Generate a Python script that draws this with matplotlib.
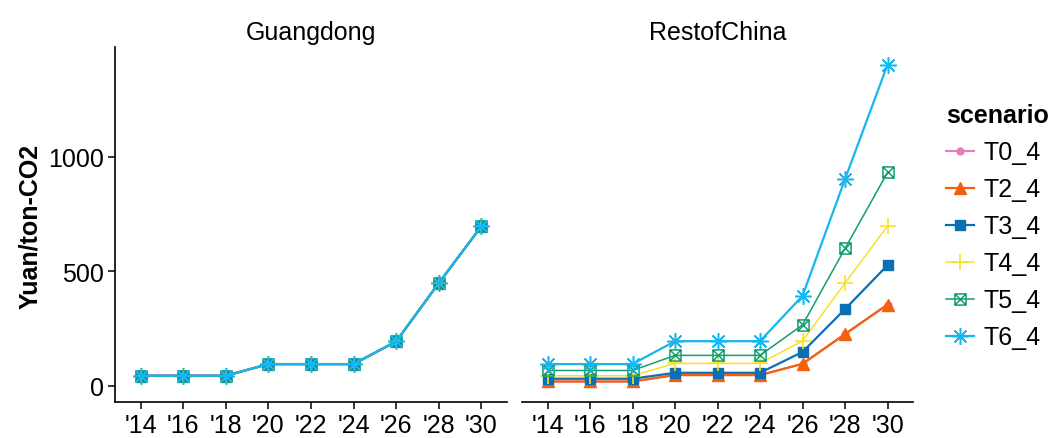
import matplotlib.pyplot as plt
import numpy as np
from matplotlib.path import Path

plt.rcParams['font.family'] = ['Liberation Sans', 'DejaVu Sans']

# Data
years = [2014, 2016, 2018, 2020, 2022, 2024, 2026, 2028, 2030]
year_labels = ["'14", "'16", "'18", "'20", "'22", "'24", "'26", "'28", "'30"]
regions = ['Guangdong', 'RestofChina']
scenarios = ['T0_4', 'T2_4', 'T3_4', 'T4_4', 'T5_4', 'T6_4']

# Guangdong: every scenario has the same price path
guangdong_price = [44, 44, 44, 95, 95, 95, 194, 449, 697]

rest_T0 = [19, 19, 19, 47, 47, 47, 96, 226, 355]
rest_T2 = [19, 19, 19, 47, 47, 47, 96, 226, 355]
rest_T3 = [31, 31, 31, 57, 57, 57, 148, 335, 527]
rest_T4 = [44, 44, 44, 98, 98, 98, 196, 449, 698]
rest_T5 = [67, 67, 67, 133, 133, 133, 266, 600, 932]
rest_T6 = [95, 95, 95, 195, 195, 195, 393, 903, 1403]

values = {
    'Guangdong': {s: guangdong_price for s in scenarios},
    'RestofChina': dict(zip(scenarios, [rest_T0, rest_T2, rest_T3, rest_T4, rest_T5, rest_T6])),
}

# square with a cross inside (R pch 7)
box_x = Path([(-1, -1), (1, -1), (1, 1), (-1, 1), (-1, -1),
              (-1, -1), (1, 1), (-1, 1), (1, -1)],
             [Path.MOVETO, Path.LINETO, Path.LINETO, Path.LINETO, Path.CLOSEPOLY,
              Path.MOVETO, Path.LINETO, Path.MOVETO, Path.LINETO])

styles = {
    'T0_4': dict(color='#E57FB5', marker='o', ms=5, lw=1.5),
    'T2_4': dict(color='#F4600C', marker='^', ms=8, lw=1.6),
    'T3_4': dict(color='#0A6FB5', marker='s', ms=7, lw=1.6),
    'T4_4': dict(color='#F7E22A', marker='+', ms=11, lw=1.1, mew=1.2),
    'T5_4': dict(color='#139E6E', marker=box_x, ms=8, lw=1.1, mew=1.1, mfc='none'),
    'T6_4': dict(color='#16B6EE', marker=(8, 2, 0), ms=12, lw=1.6, mew=1.1),
}

fs = 18

fig = plt.figure(figsize=(10.52, 4.39), dpi=100)
ax_l = fig.add_axes([0.1093, 0.0813, 0.3726, 0.8087])
ax_r = fig.add_axes([0.4962, 0.0813, 0.3717, 0.8087], sharey=ax_l)

for ax, region in zip([ax_l, ax_r], regions):
    for s in scenarios:
        ax.plot(years, values[region][s], label=s, **styles[s])
    ax.set_xlim(2012.8, 2031.2)
    ax.set_ylim(-72, 1479)
    ax.set_xticks(years)
    ax.set_xticklabels(year_labels)
    ax.set_yticks([0, 500, 1000])
    ax.set_title(region, fontsize=fs, pad=6)
    for side in ['top', 'right']:
        ax.spines[side].set_visible(False)
    ax.spines['bottom'].set_linewidth(1.2)
    ax.spines['left'].set_linewidth(1.2)
    ax.tick_params(direction='out', length=5, width=1.1, labelsize=fs, pad=3)

ax_r.spines['left'].set_visible(False)
ax_r.tick_params(axis='y', left=False, labelleft=False)

fig.text(30 / 1052, 0.4836, 'Yuan/ton-CO2', rotation=90, fontsize=fs,
         fontweight='bold', ha='center', va='center')

handles, labels = ax_r.get_legend_handles_labels()
leg = fig.legend(handles, labels, title='scenario', loc='upper left',
                 bbox_to_anchor=(0.899, 0.762), frameon=False, fontsize=fs,
                 title_fontproperties={'weight': 'bold', 'size': fs},
                 handlelength=1.15, handletextpad=0.35, labelspacing=0.52,
                 borderpad=0, borderaxespad=0, alignment='left')

fig.savefig('out.png', dpi=100)
